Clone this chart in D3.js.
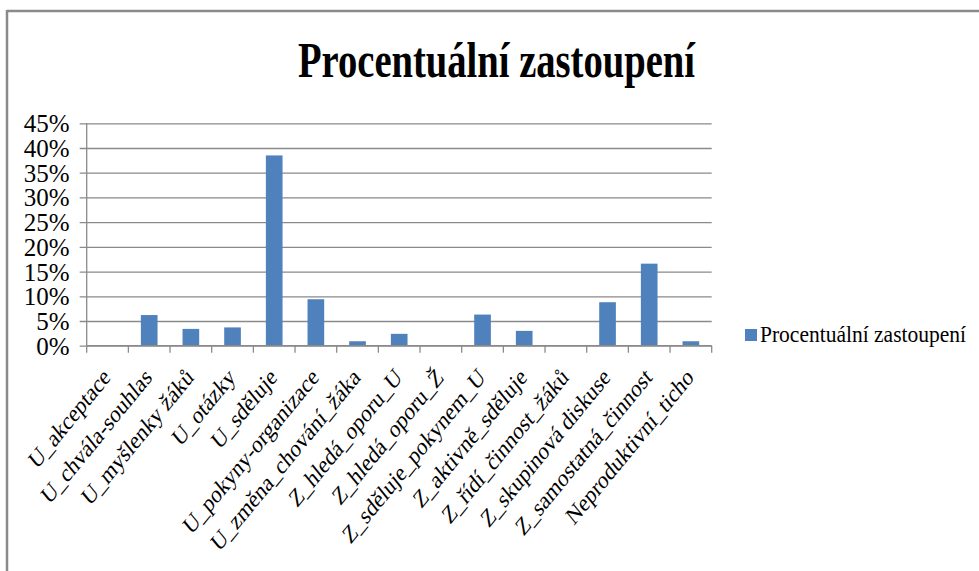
<!DOCTYPE html>
<html>
<head>
<meta charset="utf-8">
<script src="https://cdn.jsdelivr.net/npm/d3@7"></script>
<style>
  html, body { margin: 0; padding: 0; background: #fff; }
  svg { display: block; }
  svg text { font-family: "Liberation Serif", "Times New Roman", Tinos, "DejaVu Serif", serif; fill: #000; }
</style>
</head>
<body>
<svg id="chart" width="979" height="571"></svg>
<script>
const categories = [
  "U_akceptace", "U_chvála-souhlas", "U_myšlenky žáků", "U_otázky", "U_sděluje",
  "U_pokyny-organizace", "U_změna_chování_žáka", "Z_hledá_oporu_U", "Z_hledá_oporu_Ž",
  "Z_sděluje_pokynem_U", "Z_aktivně_sděluje", "Z_řídí_činnost_žáků",
  "Z_skupinová diskuse", "Z_samostatná_činnost", "Neproduktivní_ticho"
];
const values = [0, 0.062, 0.034, 0.037, 0.385, 0.094, 0.009, 0.024, 0, 0.063, 0.030, 0, 0.088, 0.166, 0.009];
const yTicks = [0, 0.05, 0.10, 0.15, 0.20, 0.25, 0.30, 0.35, 0.40, 0.45];
const seriesName = "Procentuální zastoupení";
const titleText = "Procentuální zastoupení";

const FONT = '"Liberation Serif", "Times New Roman", Tinos, "DejaVu Serif", serif';
const svg = d3.select("#chart");
const gray = "#8a8a8a";
const blue = "#4F81BD";

// outer frame (top and left edges visible)
svg.append("line").attr("x1", 7).attr("x2", 979).attr("y1", 11).attr("y2", 11)
  .attr("stroke", gray).attr("stroke-width", 2.5);
svg.append("line").attr("x1", 7).attr("x2", 7).attr("y1", 10).attr("y2", 571)
  .attr("stroke", gray).attr("stroke-width", 2.5);

// title
svg.append("text").attr("x", 298).attr("y", 77)
  .attr("font-family", FONT)
  .attr("font-size", 51).attr("font-weight", "bold")
  .attr("textLength", 397).attr("lengthAdjust", "spacingAndGlyphs")
  .text(titleText);

const pLeft = 86.7, pRight = 711.7, pTop = 123.3, pBottom = 345.7;

const x = d3.scaleBand().domain(categories).range([pLeft, pRight])
  .paddingInner(0.6).paddingOuter(0.3);
const y = d3.scaleLinear().domain([0, 0.45]).range([pBottom, pTop]);

// gridlines + y ticks
const yAxis = d3.axisLeft(y).tickValues(yTicks).tickFormat(d3.format(".0%"))
  .tickSize(-(pRight - pLeft)).tickPadding(18);
const gy = svg.append("g").attr("transform", `translate(${pLeft},0)`).call(yAxis)
  .attr("font-family", FONT);
gy.select(".domain").remove();
gy.selectAll(".tick line").attr("stroke", gray).attr("stroke-width", 1.3)
  .attr("x1", -7).attr("x2", pRight - pLeft);
gy.selectAll(".tick text").attr("font-size", 25).attr("font-family", FONT)
  .attr("fill", "#000").attr("dy", "0.34em").attr("x", -17);

// y axis line
svg.append("line").attr("x1", pLeft).attr("x2", pLeft).attr("y1", pTop).attr("y2", pBottom)
  .attr("stroke", gray).attr("stroke-width", 1.3);

// bars
svg.append("g").selectAll("rect").data(values).join("rect")
  .attr("x", (d, i) => x(categories[i]))
  .attr("y", d => y(d))
  .attr("width", x.bandwidth())
  .attr("height", d => pBottom - y(d))
  .attr("fill", blue);

// x axis line and ticks at band boundaries
svg.append("line").attr("x1", pLeft).attr("x2", pRight).attr("y1", pBottom).attr("y2", pBottom)
  .attr("stroke", gray).attr("stroke-width", 1.3);
const step = x.step();
svg.append("g").selectAll("line").data(d3.range(categories.length + 1)).join("line")
  .attr("x1", i => pLeft + i * step).attr("x2", i => pLeft + i * step)
  .attr("y1", pBottom).attr("y2", pBottom + 7)
  .attr("stroke", gray).attr("stroke-width", 1.3);

// x labels (rotated, horizontally condensed)
svg.append("g").selectAll("text").data(categories).join("text")
  .attr("transform", d => `translate(${x(d) + x.bandwidth() / 2 + 4},${pBottom + 33}) scale(0.82,1) rotate(-45)`)
  .attr("text-anchor", "end")
  .attr("font-family", FONT)
  .attr("font-size", 25)
  .text(d => d);

// legend
svg.append("rect").attr("x", 745).attr("y", 329).attr("width", 12).attr("height", 12).attr("fill", blue);
svg.append("text").attr("x", 760).attr("y", 342).attr("font-size", 22.5)
  .attr("font-family", FONT)
  .attr("textLength", 206).attr("lengthAdjust", "spacingAndGlyphs")
  .text(seriesName);
</script>
</body>
</html>
